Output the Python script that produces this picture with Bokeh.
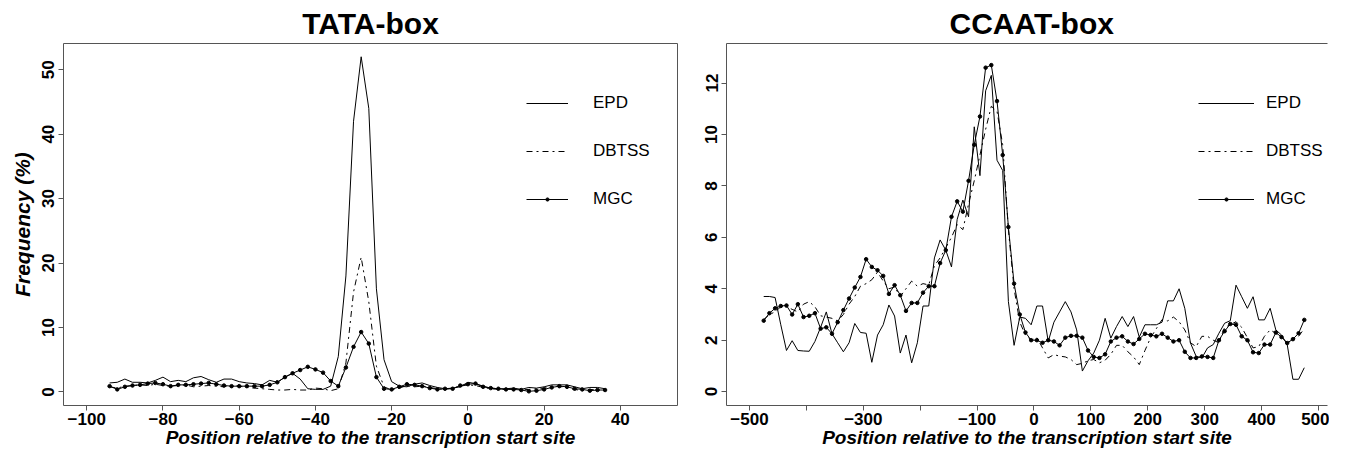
from bokeh.plotting import figure
from bokeh.layouts import row
from bokeh.models import FixedTicker, Range1d, Legend, LegendItem, LinearAxis
from bokeh.embed import file_html
from bokeh.resources import INLINE

# ---------------- data ----------------
# TATA-box panel: position (bp) and frequency (%)
tata_x = list(range(-94, 37, 2))
tata_epd = [1.4, 1.5, 2.0, 1.5, 1.5, 1.4, 1.8, 2.3, 1.6, 1.8,
            1.6, 2.2, 2.4, 1.9, 1.5, 2.0, 2.0, 1.6, 1.4, 1.3,
            1.1, 1.8, 1.5, 2.3, 2.9, 2.0, 0.5, 0.4, 0.4, 0.9,
            5.5, 18.0, 42.0, 52.0, 44.0, 16.0, 5.0, 1.6, 0.9, 0.8,
            1.2, 1.4, 1.0, 0.7, 0.5, 0.6, 0.8, 1.5, 1.3, 0.9,
            0.6, 0.5, 0.5, 0.6, 0.4, 0.7, 0.6, 0.8, 1.1, 1.1,
            1.1, 0.8, 0.5, 0.7, 0.7, 0.5]
tata_dbtss = [0.8, 0.6, 0.9, 1.0, 1.1, 1.0, 1.2, 1.0, 0.9, 1.0,
              1.1, 0.8, 0.9, 1.0, 0.9, 0.8, 1.0, 0.9, 0.7, 0.6,
              0.5, 0.4, 0.3, 0.3, 0.4, 0.3, 0.3, 0.6, 0.5, 0.2,
              0.5, 4.5, 15.5, 20.9, 14.0, 4.0, 0.8, 0.3, 0.6, 1.0,
              0.8, 0.9, 0.7, 0.5, 0.4, 0.6, 0.9, 1.1, 1.0, 0.7,
              0.5, 0.4, 0.4, 0.5, 0.3, 0.4, 0.5, 0.6, 0.8, 0.9,
              0.6, 0.4, 0.2, 0.4, 0.3, 0.3]
tata_mgc = [0.9, 0.4, 0.8, 1.0, 1.1, 1.3, 1.4, 1.2, 0.9, 1.1,
            1.1, 1.2, 1.3, 1.4, 1.2, 1.0, 0.9, 0.9, 0.9, 0.9,
            0.9, 1.1, 1.5, 2.3, 2.9, 3.4, 3.9, 3.5, 3.0, 1.7,
            0.9, 3.8, 7.0, 9.3, 7.5, 2.3, 0.5, 0.4, 0.8, 1.2,
            1.1, 0.9, 0.6, 0.4, 0.5, 0.5, 1.0, 1.2, 1.3, 0.8,
            0.6, 0.5, 0.4, 0.4, 0.3, 0.1, 0.2, 0.4, 0.7, 0.9,
            0.8, 0.5, 0.4, 0.2, 0.3, 0.3]

# CCAAT-box panel
ccaat_x = list(range(-475, 476, 10))
ccaat_epd = [3.7, 3.7, 3.66, 2.6, 1.6, 1.98, 1.6, 1.58, 1.57, 1.95,
             2.5, 3.1, 2.25, 1.9, 1.55, 1.9, 2.65, 2.3, 2.27, 1.14,
             2.2, 2.6, 3.37, 2.94, 1.5, 2.2, 1.12, 1.9, 3.33, 3.33,
             5.2, 5.9, 5.5, 4.85, 6.7, 7.45, 6.8, 10.3, 8.4, 11.7,
             12.3, 9.0, 8.6, 3.5, 1.8, 2.9, 2.85, 2.6,
             3.33, 3.33, 1.95, 2.7, 3.1, 3.5, 3.1, 2.4, 0.8, 1.2,
             1.5, 2.0, 2.85, 2.08, 2.53, 2.92, 2.53, 2.92, 2.12, 2.6,
             2.6, 2.6, 2.7, 3.53, 3.53, 4.0, 3.24, 1.89, 1.37, 1.31,
             1.7, 1.83, 2.27, 2.66, 2.76, 4.14, 3.69, 3.24, 3.69, 2.79,
             2.79, 3.24, 2.4, 2.2, 1.83, 0.48, 0.48, 0.93]
ccaat_dbtss = [2.8, 3.0, 3.1, 3.3, 3.3, 3.2, 3.1, 3.4, 3.5, 3.3,
               2.95, 2.9, 2.85, 2.75, 3.0, 3.4, 3.7, 4.1, 4.2, 4.35,
               4.65, 4.3, 4.0, 4.07, 3.7, 4.0, 4.3, 4.1, 4.2, 4.15,
               4.9, 5.2, 5.6, 6.0, 6.5, 6.3, 7.3, 8.2, 9.2, 10.2,
               11.1, 10.9, 9.6, 6.3, 4.0, 2.7, 2.2, 2.0,
               2.1, 1.7, 1.31, 1.44, 1.38, 1.35, 1.25, 1.05, 1.1, 1.2,
               1.25, 1.12, 1.22, 1.45, 1.8, 1.8, 1.55, 1.35, 1.05, 1.6,
               2.1, 2.45, 2.8, 2.75, 2.9, 2.72, 2.4, 1.9, 1.75, 2.15,
               2.15, 2.0, 1.9, 2.5, 2.6, 2.72, 2.5, 2.1, 1.7, 1.75,
               2.15, 2.4, 2.27, 2.08, 1.9, 2.0, 2.15, 2.45]
ccaat_mgc = [2.76, 3.05, 3.24, 3.33, 3.35, 3.0, 3.4, 2.9, 2.95, 3.05,
             2.45, 2.5, 2.25, 2.7, 3.17, 3.62, 4.05, 4.46, 5.15, 4.85,
             4.72, 4.5, 3.8, 4.14, 3.75, 3.14, 3.45, 3.45, 3.85, 4.1,
             4.1, 5.0, 5.5, 6.8, 7.4, 7.0, 8.2, 9.6, 10.7, 12.6,
             12.7, 11.3, 9.2, 6.4, 4.2, 3.0, 2.3, 2.0,
             2.0, 1.9, 2.0, 1.95, 1.8, 2.1, 2.17, 2.17, 2.1, 1.6,
             1.35, 1.31, 1.45, 1.95, 2.1, 2.15, 1.95, 1.85, 2.05, 2.25,
             2.2, 2.15, 2.25, 2.1, 1.95, 2.0, 1.55, 1.31, 1.31, 1.37,
             1.35, 1.31, 2.0, 2.35, 2.63, 2.6, 2.15, 2.0, 1.53, 1.5,
             1.83, 1.83, 2.3, 2.12, 1.89, 2.04, 2.27, 2.79]

tata_xticks = [-100, -80, -60, -40, -20, 0, 20, 40]
tata_yticks = [0, 10, 20, 30, 40, 50]
ccaat_xticks = [-500, -400, -300, -200, -100, 0, 100, 200, 300, 400, 500]
ccaat_hidden_xticks = [-400, -200]
ccaat_yticks = [0, 2, 4, 6, 8, 10, 12]

series_names = ["EPD", "DBTSS", "MGC"]
x_title = "Position relative to the transcription start site"
y_title = "Frequency (%)"

# ---------------- style ----------------
FONT = "Liberation Sans"
BOX = "#555555"
DASHDOT = "6 4 2 4"


def lab(v):
    return ("\u2212" + str(abs(v))) if v < 0 else str(v)


def style(p, xticks, yticks, hidden=()):
    p.xgrid.visible = False
    p.ygrid.visible = False
    p.background_fill_color = "white"
    p.border_fill_color = "white"
    for ax in (p.xaxis[0], p.yaxis[0]):
        ax.axis_line_color = None
        ax.major_tick_line_color = BOX
        ax.major_tick_out = 5
        ax.major_tick_in = 0
        ax.minor_tick_out = 0
        ax.minor_tick_in = 0
        ax.major_label_text_font = FONT
        ax.major_label_text_font_style = "bold"
        ax.major_label_text_font_size = "17px"
        ax.major_label_text_color = "black"
        ax.axis_label_text_color = "black"
    p.xaxis[0].ticker = FixedTicker(ticks=xticks, minor_ticks=[])
    p.yaxis[0].ticker = FixedTicker(ticks=yticks, minor_ticks=[])
    p.xaxis[0].major_label_overrides = {v: ("" if v in hidden else lab(v)) for v in xticks}
    p.xaxis[0].major_label_standoff = 2
    p.yaxis[0].major_label_standoff = 4
    p.yaxis[0].major_label_orientation = "vertical"
    p.xaxis[0].axis_label = x_title
    p.xaxis[0].axis_label_text_font = FONT
    p.xaxis[0].axis_label_text_font_style = "bold italic"
    p.xaxis[0].axis_label_text_font_size = "19px"
    p.xaxis[0].axis_label_standoff = -1
    p.title.text_font = FONT
    p.title.text_font_size = "30px"
    p.title.text_font_style = "bold"
    p.title.text_color = "black"
    p.title.standoff = 8


def draw(p, x, epd, dbtss, mgc):
    r1 = p.line(x, epd, line_color="black", line_width=1)
    r2 = p.line(x, dbtss, line_color="black", line_width=1, line_dash=DASHDOT)
    r3 = p.line(x, mgc, line_color="black", line_width=1)
    r4 = p.scatter(x, mgc, size=3.5, color="black")
    return [[r1], [r2], [r3, r4]]


def add_legend(p, rends, loc, gw, standoff):
    items = [LegendItem(label=n, renderers=r) for n, r in zip(series_names, rends)]
    lg = Legend(items=items, location=loc, orientation="vertical",
                glyph_width=gw, glyph_height=8, label_height=20,
                label_standoff=standoff, spacing=28, padding=0, margin=0,
                border_line_color=None, background_fill_alpha=0,
                label_text_font=FONT, label_text_font_size="17px",
                label_text_baseline="alphabetic", label_text_color="black")
    p.add_layout(lg)


# ---------------- left: TATA-box ----------------
p1 = figure(width=695, height=450, title="TATA-box",
            x_range=Range1d(-106.1, 55.0), y_range=Range1d(-2.1, 54.06),
            output_backend="svg", toolbar_location=None,
            min_border_left=63, min_border_right=18, min_border_top=42,
            min_border_bottom=0)
style(p1, tata_xticks, tata_yticks)
p1.title.align = "center"
p1.outline_line_color = BOX
p1.outline_line_width = 1
p1.yaxis[0].axis_label = y_title
p1.yaxis[0].axis_label_text_font = FONT
p1.yaxis[0].axis_label_text_font_style = "bold italic"
p1.yaxis[0].axis_label_text_font_size = "21px"
p1.yaxis[0].axis_label_standoff = 6
add_legend(p1, draw(p1, tata_x, tata_epd, tata_dbtss, tata_mgc), (463, 196), 42, 25)

# ---------------- right: CCAAT-box ----------------
p2 = figure(width=634, height=450, title="CCAAT-box",
            x_range=Range1d(-540.4, 515.8), y_range=Range1d(-0.54, 13.54),
            output_backend="svg", toolbar_location=None,
            min_border_left=31, min_border_right=2, min_border_top=42,
            min_border_bottom=0)
style(p2, ccaat_xticks, ccaat_yticks, ccaat_hidden_xticks)
p2.title.align = "left"
p2.title.offset = 223
p2.outline_line_color = None
p2.xaxis[0].axis_line_color = BOX
p2.yaxis[0].axis_line_color = BOX
top = LinearAxis(ticker=FixedTicker(ticks=[]), axis_line_color=BOX,
                 major_tick_out=0, major_tick_in=0, minor_tick_out=0, minor_tick_in=0,
                 major_label_standoff=0, major_label_text_font_size="0px")
p2.add_layout(top, "above")
add_legend(p2, draw(p2, ccaat_x, ccaat_epd, ccaat_dbtss, ccaat_mgc), (472, 196), 56, 12)

layout = row(p1, p2)
open("out.html", "w").write(file_html(layout, INLINE))
